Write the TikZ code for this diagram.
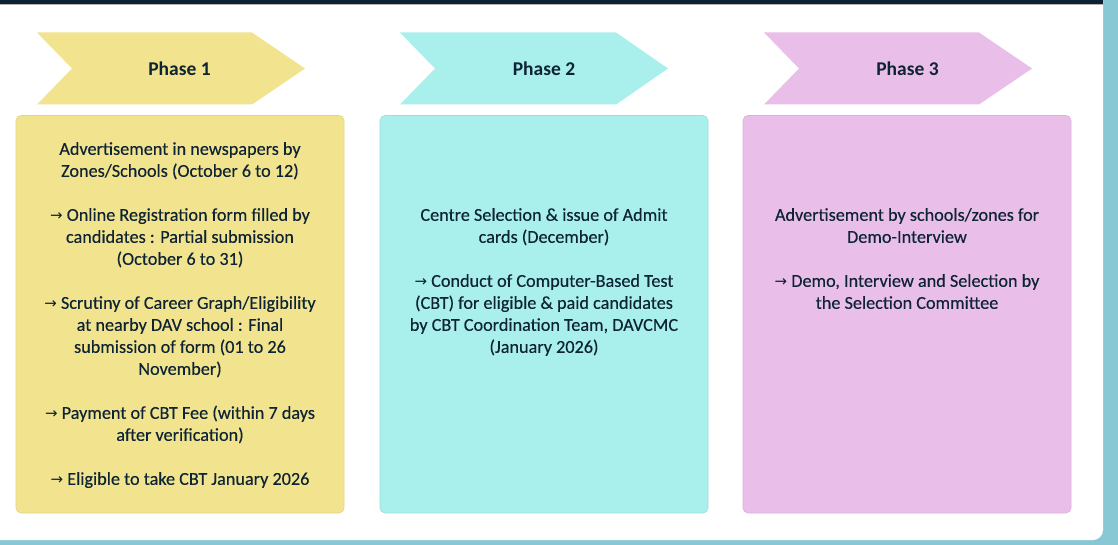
\documentclass[tikz,border=0pt]{standalone}
\usepackage{fontspec}
\setmainfont{Carlito}
\newfontfamily\arrowfont{DejaVu Sans}
\definecolor{bgteal}{HTML}{88C8D5}
\definecolor{navy}{HTML}{0B2236}
\definecolor{ink}{HTML}{0E2435}
\definecolor{pone}{HTML}{F2E48E}
\definecolor{ptwo}{HTML}{A9EFEC}
\definecolor{pthree}{HTML}{E9BFE9}
\definecolor{blob}{HTML}{F5A94A}
\newcommand{\arr}{{\arrowfont\fontsize{15}{15}\selectfont →}}
\begin{document}
\begin{tikzpicture}[x=1pt,y=-1pt,
  chevshape/.style={fill=#1},
  title/.style={font=\fontsize{19.5}{22}\selectfont\bfseries, text=ink, inner sep=0pt},
  phasebox/.style={rounded corners=5pt, draw=#1!93!black, fill=#1, line width=0.6pt},
  body/.style={font=\fontsize{18.2}{22}\selectfont\addfontfeatures{FakeBold=0.3}, text=ink, align=center, inner sep=0pt, anchor=north},
]
\useasboundingbox (0,0) rectangle (1118,545);
% background and card
\fill[bgteal] (0,0) rectangle (1118,545);
\fill[blob] (903,545) arc[start angle=180, end angle=360, x radius=32, y radius=-8] -- cycle;
\fill[white] (0,0) -- (1103,0) -- (1103,530) arc[start angle=0, end angle=90, radius=10] -- (0,540) -- cycle;
\fill[navy] (0,0) rectangle (1103,4);
\fill[gray!60] (0,4) rectangle (1103,5);
% chevrons
\fill[chevshape=pone] (37,32.5) -- (252,32.5) -- (305,68.5) -- (252,104.5) -- (37,104.5) -- (72,68.5) -- cycle;
\fill[chevshape=ptwo] (400,32.5) -- (616,32.5) -- (668,68.5) -- (616,104.5) -- (400,104.5) -- (435,68.5) -- cycle;
\fill[chevshape=pthree] (764,32.5) -- (979,32.5) -- (1032,68.5) -- (979,104.5) -- (764,104.5) -- (799,68.5) -- cycle;
\node[title] (t1) at (179.5,69) {Phase 1};
\node[title] (t2) at (544,69) {Phase 2};
\node[title] (t3) at (907.5,69) {Phase 3};
% boxes
\draw[phasebox=pone] (16,115.5) rectangle (344,513);
\draw[phasebox=ptwo] (380,115.5) rectangle (708,513);
\draw[phasebox=pthree] (743,115.5) rectangle (1071,513);
\node[body] (b1) at (180,142) {Advertisement in newspapers by\\
Zones/Schools (October 6 to 12)\\[22pt]
\arr{} Online Registration form filled by\\
candidates : Partial submission\\
(October 6 to 31)\\[22pt]
\arr{} Scrutiny of Career Graph/Eligibility\\
at nearby DAV school : Final\\
submission of form (01 to 26\\
November)\\[22pt]
\arr{} Payment of CBT Fee (within 7 days\\
after verification)\\[22pt]
\arr{} Eligible to take CBT January 2026};
\node[body] (b2) at (544,208) {Centre Selection \& issue of Admit\\
cards (December)\\[22pt]
\arr{} Conduct of Computer-Based Test\\
(CBT) for eligible \& paid candidates\\
by CBT Coordination Team, DAVCMC\\
(January 2026)};
\node[body] (b3) at (907,208) {Advertisement by schools/zones for\\
Demo-Interview\\[22pt]
\arr{} Demo, Interview and Selection by\\
the Selection Committee};
\end{tikzpicture}
\end{document}
